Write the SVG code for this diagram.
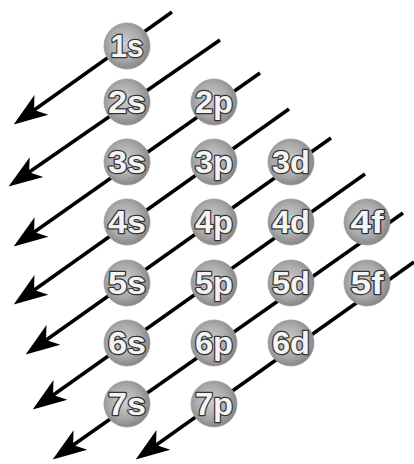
<svg xmlns="http://www.w3.org/2000/svg" width="414" height="464" viewBox="0 0 414 464">
<defs>
<radialGradient id="ball" cx="0.45" cy="0.45" r="0.6">
<stop offset="0" stop-color="#cfcfcf"/>
<stop offset="0.6" stop-color="#a9a9a9"/>
<stop offset="1" stop-color="#7e7e7e"/>
</radialGradient>
<marker id="arr" viewBox="0 0 34 26" refX="14" refY="13" markerWidth="34" markerHeight="26" markerUnits="userSpaceOnUse" orient="auto">
<path d="M34,13 L0,1 L9,13 L0,25 Z" fill="#000"/>
</marker>
<style>
.ln{stroke:#000;stroke-width:3.5;fill:none;marker-end:url(#arr)}
.b{fill:url(#ball);stroke:#9a9a9a;stroke-width:0.8}
.t{font-family:"Liberation Sans",Arial,sans-serif;font-size:31px;font-weight:bold;fill:#f4f4f4;stroke:#333;stroke-width:2.4;paint-order:stroke;stroke-linejoin:round;text-anchor:middle}
</style>
</defs>
<rect width="414" height="464" fill="#fff"/>
<g id="connectors">
<line class="ln" x1="172" y1="12" x2="30" y2="113"/>
<line class="ln" x1="220" y1="40" x2="25" y2="175"/>
<line class="ln" x1="260" y1="73" x2="30" y2="235"/>
<line class="ln" x1="289" y1="109" x2="30" y2="293"/>
<line class="ln" x1="331" y1="138" x2="42" y2="343"/>
<line class="ln" x1="365" y1="174" x2="49" y2="398"/>
<line class="ln" x1="403" y1="213" x2="69" y2="448"/>
<line class="ln" x1="414" y1="262" x2="152" y2="448"/>
</g>
<g id="n1s"><circle class="b" cx="127" cy="46" r="23"/><text class="t" x="127" y="57" textLength="33" lengthAdjust="spacingAndGlyphs">1s</text></g>
<g id="n2s"><circle class="b" cx="127" cy="102" r="23"/><text class="t" x="127" y="113" textLength="38" lengthAdjust="spacingAndGlyphs">2s</text></g>
<g id="n2p"><circle class="b" cx="214" cy="102" r="23"/><text class="t" x="214" y="113" textLength="38" lengthAdjust="spacingAndGlyphs">2p</text></g>
<g id="n3s"><circle class="b" cx="127" cy="162" r="23"/><text class="t" x="127" y="173" textLength="38" lengthAdjust="spacingAndGlyphs">3s</text></g>
<g id="n3p"><circle class="b" cx="214" cy="162" r="23"/><text class="t" x="214" y="173" textLength="38" lengthAdjust="spacingAndGlyphs">3p</text></g>
<g id="n3d"><circle class="b" cx="291" cy="162" r="23"/><text class="t" x="291" y="173" textLength="38" lengthAdjust="spacingAndGlyphs">3d</text></g>
<g id="n4s"><circle class="b" cx="127" cy="222" r="23"/><text class="t" x="127" y="233" textLength="38" lengthAdjust="spacingAndGlyphs">4s</text></g>
<g id="n4p"><circle class="b" cx="214" cy="222" r="23"/><text class="t" x="214" y="233" textLength="38" lengthAdjust="spacingAndGlyphs">4p</text></g>
<g id="n4d"><circle class="b" cx="291" cy="222" r="23"/><text class="t" x="291" y="233" textLength="38" lengthAdjust="spacingAndGlyphs">4d</text></g>
<g id="n4f"><circle class="b" cx="367" cy="222" r="23"/><text class="t" x="367" y="233" textLength="33" lengthAdjust="spacingAndGlyphs">4f</text></g>
<g id="n5s"><circle class="b" cx="127" cy="283" r="23"/><text class="t" x="127" y="294" textLength="38" lengthAdjust="spacingAndGlyphs">5s</text></g>
<g id="n5p"><circle class="b" cx="214" cy="283" r="23"/><text class="t" x="214" y="294" textLength="38" lengthAdjust="spacingAndGlyphs">5p</text></g>
<g id="n5d"><circle class="b" cx="291" cy="283" r="23"/><text class="t" x="291" y="294" textLength="38" lengthAdjust="spacingAndGlyphs">5d</text></g>
<g id="n5f"><circle class="b" cx="367" cy="283" r="23"/><text class="t" x="367" y="294" textLength="33" lengthAdjust="spacingAndGlyphs">5f</text></g>
<g id="n6s"><circle class="b" cx="127" cy="343" r="23"/><text class="t" x="127" y="354" textLength="38" lengthAdjust="spacingAndGlyphs">6s</text></g>
<g id="n6p"><circle class="b" cx="214" cy="343" r="23"/><text class="t" x="214" y="354" textLength="38" lengthAdjust="spacingAndGlyphs">6p</text></g>
<g id="n6d"><circle class="b" cx="291" cy="343" r="23"/><text class="t" x="291" y="354" textLength="38" lengthAdjust="spacingAndGlyphs">6d</text></g>
<g id="n7s"><circle class="b" cx="127" cy="404" r="23"/><text class="t" x="127" y="415" textLength="38" lengthAdjust="spacingAndGlyphs">7s</text></g>
<g id="n7p"><circle class="b" cx="214" cy="404" r="23"/><text class="t" x="214" y="415" textLength="38" lengthAdjust="spacingAndGlyphs">7p</text></g>
</svg>
